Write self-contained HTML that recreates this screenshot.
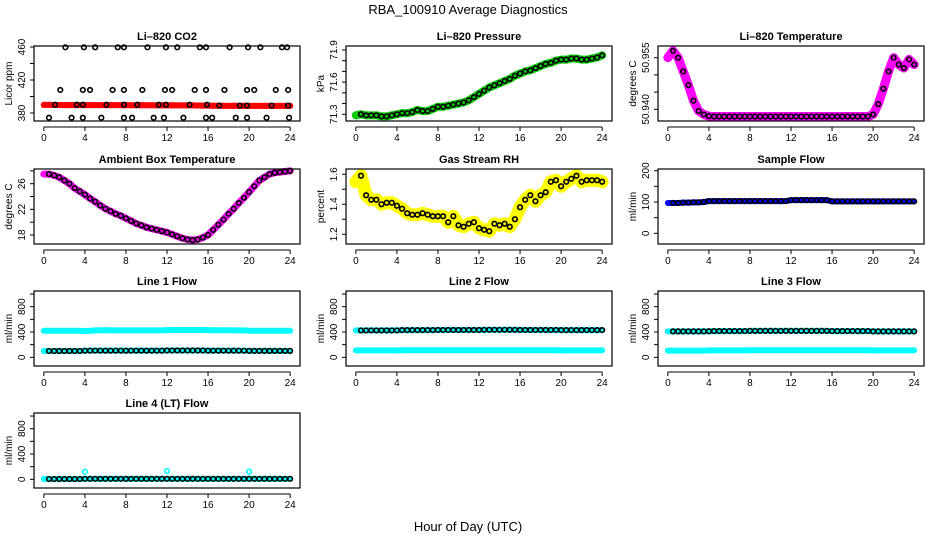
<!DOCTYPE html>
<html><head><meta charset="utf-8"><style>
html,body{margin:0;padding:0;background:#fff}
svg{display:block;font-family:"Liberation Sans",Arial,sans-serif}
</style></head><body>
<svg id="chart" width="936" height="540" viewBox="0 0 936 540" xmlns="http://www.w3.org/2000/svg">
<rect width="936" height="540" fill="#fff"/>
<text x="468" y="14" text-anchor="middle" font-size="13">RBA_100910  Average Diagnostics</text>
<text x="468" y="531" text-anchor="middle" font-size="13">Hour of Day (UTC)</text>
<g id="panels"></g>
</svg>
<script>
// ---- data ----
const gridH = [0,0.5,1,1.5,2,2.5,3,3.5,4,4.5,5,5.5,6,6.5,7,7.5,8,8.5,9,9.5,10,10.5,11,11.5,12,12.5,13,13.5,14,14.5,15,15.5,16,16.5,17,17.5,18,18.5,19,19.5,20,20.5,21,21.5,22,22.5,23,23.5,24];
const xTicks = [0,4,8,12,16,20,24];

const co2Red = [389.8,389.8,389.7,389.7,389.6,389.7,389.6,389.7,389.6,389.6,389.5,389.6,389.5,389.5,389.5,389.4,389.5,389.4,389.4,389.5,389.4,389.4,389.3,389.4,389.3,389.4,389.3,389.3,389.2,389.2,389.1,388.9,388.9,388.8,388.8,388.7,388.7,388.8,388.7,388.6,388.7,388.6,388.6,388.7,388.6,388.6,388.6,388.6,388.7];
const co2AvgH = [2.1,3.9,5.0,7.2,7.8,10.1,11.9,13.0,15.2,15.8,18.1,19.9,21.1,23.2,23.7, 1.6,3.8,4.5,6.7,7.8,9.6,11.8,12.5,14.7,15.8,17.6,19.8,20.5,22.6,23.8, 1.1,3.2,3.8,6.1,7.8,9.1,11.2,11.9,14.2,15.9,17.1,19.1,19.8,22.2,23.8, 0.5,2.7,3.8,5.6,7.8,8.6,10.7,11.7,13.6,15.8,16.4,18.7,19.8,21.7,23.9];
const co2Avg = [459.6,459.6,459.6,459.6,459.6,459.6,459.6,459.6,459.6,459.6,459.6,459.6,459.6,459.6,459.6, 407.9,407.9,407.9,407.9,407.9,407.9,407.9,407.9,407.9,407.9,407.9,407.9,407.9,407.9,407.9, 390,390,390,390,390,390,390,390,390,390,389,389,389,389,389, 374.3,374.3,374.3,374.3,374.3,374.3,374.3,374.3,374.3,374.3,374.3,374.3,374.3,374.3,374.3];

const pressVals = [71.29,71.30,71.29,71.29,71.29,71.28,71.28,71.29,71.30,71.31,71.31,71.32,71.34,71.33,71.33,71.35,71.37,71.37,71.38,71.39,71.40,71.41,71.43,71.46,71.49,71.52,71.55,71.57,71.59,71.61,71.63,71.66,71.68,71.70,71.71,71.73,71.75,71.77,71.78,71.80,71.81,71.81,71.82,71.82,71.81,71.81,71.82,71.83,71.85];

const liTempVals = [50.955,50.957,50.955,50.951,50.947,50.9425,50.9395,50.9385,50.938,50.9379,50.9379,50.9379,50.9379,50.9379,50.9379,50.9379,50.9379,50.9379,50.9379,50.9379,50.9379,50.9379,50.9379,50.9379,50.9379,50.9379,50.9379,50.9379,50.9379,50.9379,50.9379,50.9379,50.9379,50.9379,50.9379,50.9379,50.9379,50.9379,50.9379,50.9379,50.9385,50.9415,50.946,50.951,50.955,50.953,50.952,50.9545,50.953];

const ambVals = [27.5,27.5,27.3,27.0,26.5,26.0,25.3,24.8,24.3,23.7,23.2,22.6,22.1,21.7,21.3,21.0,20.6,20.2,19.8,19.5,19.2,19.0,18.8,18.6,18.4,18.1,17.8,17.5,17.3,17.2,17.3,17.6,18.0,18.8,19.6,20.4,21.3,22.1,23.0,23.8,24.7,25.6,26.5,27.0,27.5,27.7,27.8,27.9,28.0];

const rhVals = [1.55,1.59,1.46,1.43,1.43,1.40,1.41,1.41,1.39,1.37,1.34,1.33,1.33,1.34,1.33,1.32,1.32,1.32,1.28,1.32,1.26,1.25,1.27,1.28,1.24,1.23,1.22,1.27,1.26,1.27,1.25,1.30,1.38,1.43,1.46,1.42,1.46,1.48,1.55,1.56,1.52,1.55,1.57,1.59,1.55,1.56,1.56,1.56,1.55];

const sampleVals = [97,97,97,98,98,99,99,100,103,103,103,103,103,103,103,103,103,103,103,103,103,103,103,103,106,106,106,106,106,106,106,106,102,102,102,102,102,102,102,102,102,102,102,102,102,102,102,102,102];

const line1Hi = [420,420,420,420,420,420,420,420,415,420,425,425,430,425,425,425,425,425,425,425,425,425,425,425,430,432,432,432,432,432,432,432,430,428,428,428,428,425,425,425,420,420,420,420,420,420,420,420,420];
const line1Lo = [100,100,100,100,100,100,100,100,105,105,105,105,105,105,105,105,105,105,105,105,105,105,105,105,108,108,108,108,108,108,108,108,105,105,105,105,105,105,105,105,102,102,102,102,102,102,102,102,102];
const line2Hi = [425,425,425,425,425,425,425,425,425,430,430,430,430,430,430,430,432,432,432,432,432,432,432,432,432,435,435,435,435,435,435,435,432,432,432,432,432,432,432,432,430,430,430,430,430,430,430,430,430];
const line2Lo = [110,110,110,110,110,110,110,110,110,112,112,112,112,112,112,112,112,112,112,112,112,112,112,112,112,112,112,112,112,112,112,112,112,112,112,112,112,112,112,112,110,110,110,110,110,110,110,110,110];
const line3Hi = [410,410,410,410,410,410,410,410,412,415,415,415,415,415,415,415,418,418,418,418,418,418,418,418,418,418,418,418,418,418,418,418,415,415,415,415,415,415,415,415,410,410,410,410,410,410,410,410,410];
const line3Lo = [105,105,105,105,105,105,105,105,110,110,110,110,110,110,110,110,112,112,112,112,112,112,112,112,112,112,112,112,112,112,112,112,112,112,112,112,112,112,112,112,110,110,110,110,110,110,110,110,110];
const line4Vals = [5,5,5,5,5,5,5,5,8,8,8,8,8,8,8,8,8,8,8,8,8,8,8,8,8,8,8,8,8,8,8,8,8,8,8,8,8,8,8,8,8,8,8,8,8,8,8,8,8];
const line4OutH = [4,12,20];
const line4Out = [120,130,120];

// ---- layout ----
const colL = [34,346,658], W = 266, rowT = [46,169,291,413], H = 75;
const NS = "http://www.w3.org/2000/svg";
const root = document.getElementById('panels');
function mk(tag, attrs, parent){const e=document.createElementNS(NS,tag);for(const k in attrs)e.setAttribute(k,attrs[k]);(parent||root).appendChild(e);return e;}

function panel(name, col, row, ymin, ymax, yTicks, yLabels, ylab){
  const L=colL[col], T=rowT[row];
  const g = mk('g',{});
  
  
  const sx = h => L + (h + 0.96) / 25.92 * W;
  const sy = v => T + H - (v - ymin) / (ymax - ymin) * H;
  const t = mk('text',{x:L+W/2,y:T-6,'text-anchor':'middle','font-size':11,'font-weight':'bold'},g);
  t.textContent = name.title;
  
  
  const data = mk('g',{},g);
  
  
  const box = mk('rect',{x:L,y:T,width:W,height:H,fill:'none',stroke:'#000','stroke-width':1.2},g);
  
  
  const xa = mk('g',{},g);
  
  
  const ay = T+H+6;
  mk('line',{x1:sx(xTicks[0]),x2:sx(xTicks[xTicks.length-1]),y1:ay,y2:ay,stroke:'#000'},xa);
  xTicks.forEach(v=>{
    mk('line',{x1:sx(v),x2:sx(v),y1:ay,y2:ay+4,stroke:'#000'},xa);
    const tx = mk('text',{x:sx(v),y:ay+14,'text-anchor':'middle','font-size':10},xa);
    tx.textContent = v;
  });
  const ya = mk('g',{},g);
  
  
  yTicks.forEach(v=>{
    mk('line',{x1:L-4,x2:L,y1:sy(v),y2:sy(v),stroke:'#000'},ya);
  });
  yLabels.forEach(v=>{
    const tx = mk('text',{x:0,y:0,'text-anchor':'middle','font-size':10,transform:`translate(${L-9},${sy(v)}) rotate(-90)`},ya);
    tx.textContent = v;
  });
  const yl = mk('text',{x:0,y:0,'text-anchor':'middle','font-size':10,transform:`translate(${L-22},${T+H/2}) rotate(-90)`},g);
  yl.textContent = ylab;
  
  
  return {sx, sy, data};
}
function band(p, hs, vs, color, w){
  const pts = hs.map((h,i)=>p.sx(h)+','+p.sy(vs[i])).join(' ');
  const pl = mk('polyline',{points:pts,fill:'none',stroke:color,'stroke-width':w,'stroke-linejoin':'round','stroke-linecap':'round'},p.data);
  
  
}
function pts(p, hs, vs, color, start){
  for(let i=(start||0);i<hs.length;i++){
    const c = mk('circle',{cx:p.sx(hs[i]),cy:p.sy(vs[i]),r:2.3,fill:'none',stroke:color,'stroke-width':1.6},p.data);
    
    
  }
}

let p = panel({id:'co2',title:'Li\u2013820 CO2'},0,0,370.3,461.2,[380,400,420,440,460],[380,420,460],'Licor ppm');
band(p,gridH,co2Red,'#ff0000',6); pts(p,gridH,co2Red,'#ff0000'); pts(p,co2AvgH,co2Avg,'#000');
p = panel({id:'pressure',title:'Li\u2013820 Pressure'},1,0,71.237,71.937,[71.3,71.4,71.5,71.6,71.7,71.8,71.9],[71.3,71.6,71.9],'kPa');
band(p,gridH,pressVals,'#00cc00',8); pts(p,gridH,pressVals,'#00cc00'); pts(p,gridH,pressVals,'#000',1);
p = panel({id:'li-temperature',title:'Li\u2013820 Temperature'},2,0,50.9366,50.9584,[50.940,50.945,50.950,50.955],['50.940','50.955'],'degrees C');
band(p,gridH,liTempVals,'#ff00ff',9); pts(p,gridH,liTempVals,'#ff00ff'); pts(p,gridH,liTempVals,'#000',1);
p = panel({id:'ambient-temperature',title:'Ambient Box Temperature'},0,1,16.6,28.29,[18,20,22,24,26,28],[18,22,26],'degrees C');
band(p,gridH,ambVals,'#ff00ff',7); pts(p,gridH,ambVals,'#000',1);
p = panel({id:'gas-stream-rh',title:'Gas Stream RH'},1,1,1.135,1.635,[1.2,1.3,1.4,1.5,1.6],['1.2','1.4','1.6'],'percent');
band(p,gridH,rhVals,'#ffff00',13); pts(p,gridH,rhVals,'#ffff00'); pts(p,gridH,rhVals,'#000',1);
p = panel({id:'sample-flow',title:'Sample Flow'},2,1,-34,205.4,[0,50,100,150,200],[0,100,200],'ml/min');
band(p,gridH,sampleVals,'#0000ff',6); pts(p,gridH,sampleVals,'#000',1);
const fT=[0,200,400,600,800,1000], fL=[0,400,800];
p = panel({id:'line-1-flow',title:'Line 1 Flow'},0,2,-137,1048,fT,fL,'ml/min');
band(p,gridH,line1Hi,'#00ffff',6); band(p,gridH,line1Lo,'#00ffff',6); pts(p,gridH,line1Lo,'#000',1);
p = panel({id:'line-2-flow',title:'Line 2 Flow'},1,2,-137,1048,fT,fL,'ml/min');
band(p,gridH,line2Hi,'#00ffff',6); band(p,gridH,line2Lo,'#00ffff',6); pts(p,gridH,line2Hi,'#000',1);
p = panel({id:'line-3-flow',title:'Line 3 Flow'},2,2,-137,1048,fT,fL,'ml/min');
band(p,gridH,line3Hi,'#00ffff',6); band(p,gridH,line3Lo,'#00ffff',6); pts(p,gridH,line3Hi,'#000',1);
p = panel({id:'line-4-flow',title:'Line 4 (LT) Flow'},0,3,-137,1048,fT,fL,'ml/min');
band(p,gridH,line4Vals,'#00ffff',6); pts(p,line4OutH,line4Out,'#00ffff'); pts(p,gridH,line4Vals,'#000',1);
</script>
</body></html>
